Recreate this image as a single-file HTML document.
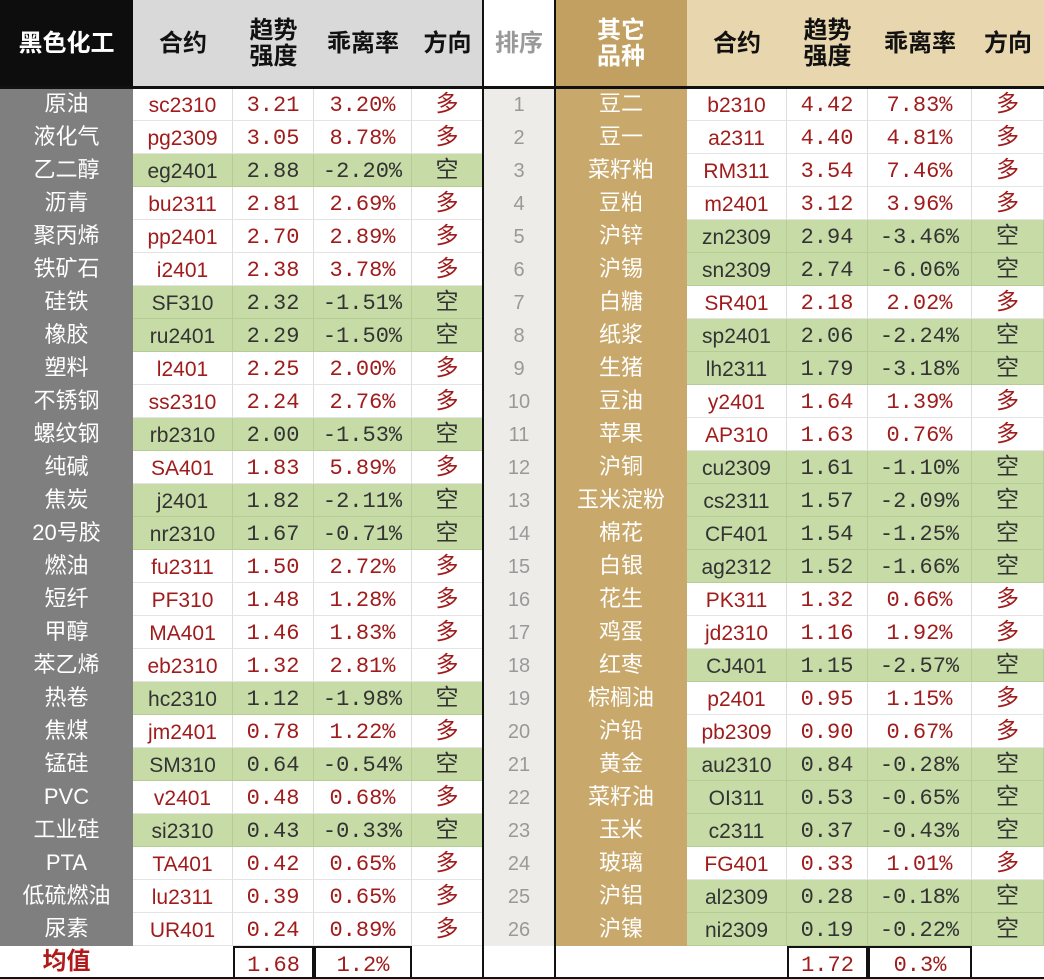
<!DOCTYPE html>
<html><head><meta charset="utf-8">
<style>
body{margin:0;width:1044px;height:979px;background:#fff;overflow:hidden;font-family:"Liberation Sans","Noto Sans CJK SC",sans-serif;}
#t{position:relative;width:1044px;height:979px;}
.c{position:absolute;display:flex;align-items:center;justify-content:center;box-sizing:border-box;text-align:center;line-height:1.1;}
.h{font-weight:bold;font-size:24px;color:#111;}
.r{font-size:21px;color:#a01c1c;border-right:1px solid #ddd;border-bottom:1px solid #e4e4e4;font-family:"Liberation Sans","Noto Sans CJK SC",sans-serif;}
.cd{padding-top:4px;}
.m{font-family:"Liberation Mono",monospace;font-size:22px;padding-top:5px;}
.d{font-size:23px;}
.g{background:#c6dba6;color:#333;border-color:#b5cc95;}
.nm{font-size:22px;color:#fff;}
.rk{font-size:20px;color:#999;background:#eeece8;}
</style></head><body>
<div id="t"></div>
<script>
const leftNames=["原油","液化气","乙二醇","沥青","聚丙烯","铁矿石","硅铁","橡胶","塑料","不锈钢","螺纹钢","纯碱","焦炭","20号胶","燃油","短纤","甲醇","苯乙烯","热卷","焦煤","锰硅","PVC","工业硅","PTA","低硫燃油","尿素"];
const leftCodes=["sc2310","pg2309","eg2401","bu2311","pp2401","i2401","SF310","ru2401","l2401","ss2310","rb2310","SA401","j2401","nr2310","fu2311","PF310","MA401","eb2310","hc2310","jm2401","SM310","v2401","si2310","TA401","lu2311","UR401"];
const leftTrend=["3.21","3.05","2.88","2.81","2.70","2.38","2.32","2.29","2.25","2.24","2.00","1.83","1.82","1.67","1.50","1.48","1.46","1.32","1.12","0.78","0.64","0.48","0.43","0.42","0.39","0.24"];
const leftDev=["3.20%","8.78%","-2.20%","2.69%","2.89%","3.78%","-1.51%","-1.50%","2.00%","2.76%","-1.53%","5.89%","-2.11%","-0.71%","2.72%","1.28%","1.83%","2.81%","-1.98%","1.22%","-0.54%","0.68%","-0.33%","0.65%","0.65%","0.89%"];
const rightNames=["豆二","豆一","菜籽粕","豆粕","沪锌","沪锡","白糖","纸浆","生猪","豆油","苹果","沪铜","玉米淀粉","棉花","白银","花生","鸡蛋","红枣","棕榈油","沪铅","黄金","菜籽油","玉米","玻璃","沪铝","沪镍"];
const rightCodes=["b2310","a2311","RM311","m2401","zn2309","sn2309","SR401","sp2401","lh2311","y2401","AP310","cu2309","cs2311","CF401","ag2312","PK311","jd2310","CJ401","p2401","pb2309","au2310","OI311","c2311","FG401","al2309","ni2309"];
const rightTrend=["4.42","4.40","3.54","3.12","2.94","2.74","2.18","2.06","1.79","1.64","1.63","1.61","1.57","1.54","1.52","1.32","1.16","1.15","0.95","0.90","0.84","0.53","0.37","0.33","0.28","0.19"];
const rightDev=["7.83%","4.81%","7.46%","3.96%","-3.46%","-6.06%","2.02%","-2.24%","-3.18%","1.39%","0.76%","-1.10%","-2.09%","-1.25%","-1.66%","0.66%","1.92%","-2.57%","1.15%","0.67%","-0.28%","-0.65%","-0.43%","1.01%","-0.18%","-0.22%"];
const avgLeft=["1.68","1.2%"], avgRight=["1.72","0.3%"];
const T=document.getElementById('t');
function cell(x,y,w,h,txt,cls,bg,name){const d=document.createElement('div');d.className='c '+cls;d.style.left=x+'px';d.style.top=y+'px';d.style.width=w+'px';d.style.height=h+'px';if(bg)d.style.background=bg;d.innerHTML=txt;


T.appendChild(d);return d;}
const HH=88,RH=33;
cell(0,0,133,HH,'黑色化工','h','#0d0d0d','left-group-header').style.color='#fff';
const lx=[133,233,314,412,483],rx=[687,787,868,972,1044];
const hd=['合约','趋势<br>强度','乖离率','方向'];
const hn=['contract-header','trend-header','deviation-header','direction-header'];
for(let i=0;i<4;i++){cell(lx[i],0,lx[i+1]-lx[i],HH,hd[i],'h','#d9d9d9','left-'+hn[i]);cell(rx[i],0,rx[i+1]-rx[i],HH,hd[i],'h','#e8d6ae','right-'+hn[i]);}
cell(483,0,72,HH,'排序','h','#fff','rank-header').style.color='#999';
const gh=cell(555,0,132,HH,'其它<br>品种','h','#c2a062','right-group-header');gh.style.color='#fff';
const kc=['cd','m','m','d'];
for(let i=0;i<26;i++){const y=HH+i*RH;
 cell(0,y,133,RH,leftNames[i],'nm','#7f7f7f','left-name-'+(i+1));
 const ls=leftDev[i][0]==='-';const lv=[leftCodes[i],leftTrend[i],leftDev[i],ls?'空':'多'];
 for(let k=0;k<4;k++)cell(lx[k],y,lx[k+1]-lx[k],RH,lv[k],'r '+kc[k]+(ls?' g':''),null,'left-'+['code','trend','deviation','direction'][k]+'-'+(i+1));
 cell(483,y,72,RH,String(i+1),'rk',null,'rank-'+(i+1));
 cell(555,y,132,RH,rightNames[i],'nm','#c9a96b','right-name-'+(i+1));
 const rs=rightDev[i][0]==='-';const rv=[rightCodes[i],rightTrend[i],rightDev[i],rs?'空':'多'];
 for(let k=0;k<4;k++)cell(rx[k],y,rx[k+1]-rx[k],RH,rv[k],'r '+kc[k]+(rs?' g':''),null,'right-'+['code','trend','deviation','direction'][k]+'-'+(i+1));
}
const fy=HH+26*RH,fh=979-fy;
const av=cell(0,fy,133,fh,'均值','h',null,'average-label');av.style.color='#b01a1a';
for(let k=0;k<2;k++){const a=cell(lx[k+1],fy,lx[k+2]-lx[k+1],fh,avgLeft[k],'r m',null,'left-average-'+k);a.style.border='2px solid #111';a.style.borderBottom='none';
const b=cell(rx[k+1],fy,rx[k+2]-rx[k+1],fh,avgRight[k],'r m',null,'right-average-'+k);b.style.border='2px solid #111';b.style.borderBottom='none';}
function line(x,y,w,h,n){const d=document.createElement('div');d.style.cssText=`position:absolute;left:${x}px;top:${y}px;width:${w}px;height:${h}px;background:#111`;


T.appendChild(d);}
line(0,HH-2,1044,3,'header-divider');line(0,977,1044,2,'bottom-border');
line(482,0,2,979,'rank-left-border');line(554,0,2,979,'rank-right-border');
</script></body></html>
